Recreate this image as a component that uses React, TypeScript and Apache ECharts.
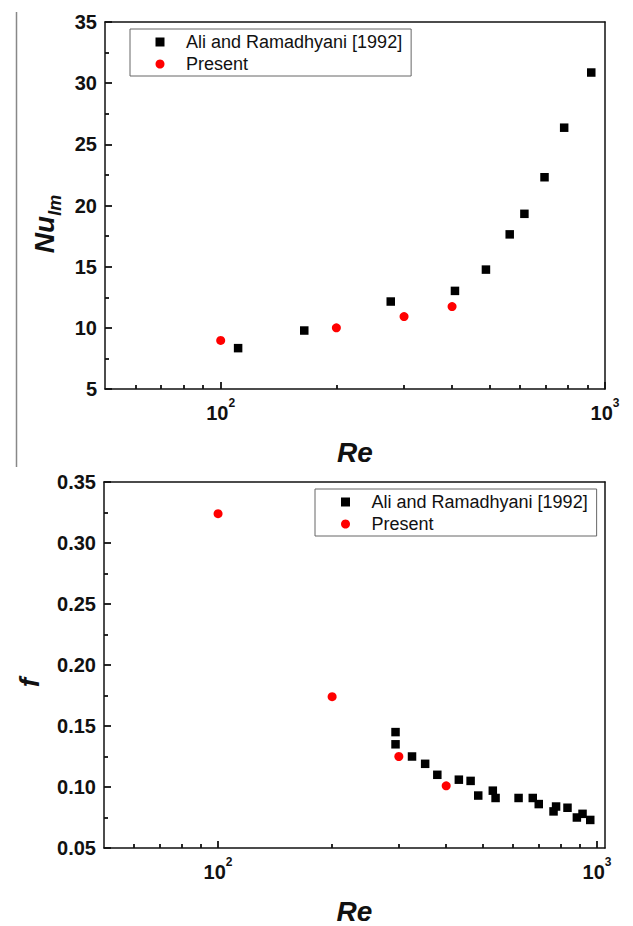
import React, { useEffect, useRef } from "react";
import * as echarts from "echarts";

// ---- data ----
const ALI = "Ali and Ramadhyani [1992]";
const PRESENT = "Present";

// top panel: Nu_lm vs Re
const aliNuRe = [111, 165, 277, 407, 490, 565, 617, 696, 783, 921];
const aliNu = [8.34, 9.78, 12.15, 13.02, 14.76, 17.64, 19.32, 22.31, 26.36, 30.87];
const presentRe = [100, 200, 300, 400];
const presentNu = [8.97, 10.0, 10.92, 11.74];

// bottom panel: f vs Re
const aliFRe = [294, 294, 325, 352, 379, 432, 464, 486, 531, 540, 621, 677, 702, 768, 780, 836, 885, 916, 960];
const aliF = [0.145, 0.135, 0.125, 0.119, 0.11, 0.106, 0.105, 0.093, 0.097, 0.091, 0.091, 0.091, 0.086, 0.08, 0.084, 0.083, 0.075, 0.078, 0.073];
const presentF = [0.324, 0.174, 0.125, 0.101];

// axes
const xMajorTicks = [100, 1000];
const xMinorTicks = [60, 70, 80, 90, 200, 300, 400, 500, 600, 700, 800, 900];
const nuMin = 5, nuMax = 35, nuStep = 5;
const fMin = 0.05, fMax = 0.35, fStep = 0.05;
const topXMax = 1000;
const bottomXMax = 1050;

const FONT = "'Liberation Sans', Arial, sans-serif";
const INK = "#111";
const LINE = "#111";
const TICK_W = 1.8;
const frameLine = { show: true, onZero: false, lineStyle: { color: LINE, width: 1.5 } };

function pairs(xs: number[], ys: number[]) {
  return xs.map((x, i) => [x, ys[i]]);
}

function xAxes(gridIndex: number, max: number) {
  return [
    {
      type: "log",
      gridIndex,
      position: "bottom",
      min: 50,
      max,
      axisLine: frameLine,
      axisTick: { show: true, inside: true, length: 7, customValues: xMajorTicks, lineStyle: { color: LINE, width: TICK_W } },
      axisLabel: {
        show: true,
        customValues: xMajorTicks,
        margin: 8,
        color: INK,
        formatter: (v: number) => `{b|10}{s|${Math.round(Math.log10(v))}}`,
        rich: {
          b: { fontSize: 20, fontWeight: "bold", fontFamily: FONT, color: INK },
          s: { fontSize: 12, fontWeight: "bold", fontFamily: FONT, color: INK, padding: [0, 0, 20, 0] },
        },
      },
      splitLine: { show: false },
      minorTick: { show: false },
      name: "Re",
      nameLocation: "middle",
      nameGap: 49,
      nameTextStyle: { fontSize: 28, fontWeight: "bold", fontStyle: "italic", fontFamily: FONT, color: INK },
    },
    {
      type: "log",
      gridIndex,
      position: "bottom",
      offset: 0,
      min: 50,
      max,
      axisLine: { show: false },
      axisTick: { show: true, inside: true, length: 4, customValues: xMinorTicks, lineStyle: { color: LINE, width: TICK_W } },
      axisLabel: { show: false },
      splitLine: { show: false },
    },
    {
      type: "value",
      gridIndex,
      position: "top",
      min: 0,
      max: 1,
      axisLine: frameLine,
      axisTick: { show: false },
      axisLabel: { show: false },
      splitLine: { show: false },
    },
  ];
}

function yAxes(gridIndex: number, min: number, max: number, step: number, digits: number, name: string, nameGap: number, shift: number) {
  return [
    {
      type: "value",
      gridIndex,
      position: "left",
      min,
      max,
      interval: step,
      axisLine: frameLine,
      axisTick: { show: true, inside: true, length: 7, lineStyle: { color: LINE, width: TICK_W } },
      minorTick: { show: true, splitNumber: 2, length: 4, lineStyle: { color: LINE, width: TICK_W } },
      axisLabel: {
        margin: 8,
        fontSize: 20,
        fontWeight: "bold",
        fontFamily: FONT,
        color: INK,
        formatter: (v: number) => v.toFixed(digits),
      },
      splitLine: { show: false },
      minorSplitLine: { show: false },
      name,
      nameLocation: "middle",
      nameRotate: 90,
      nameGap,
      nameTextStyle: {
        fontSize: 28,
        fontWeight: "bold",
        fontStyle: "italic",
        fontFamily: FONT,
        color: INK,
        padding: [0, shift, 0, 0],
        rich: {
          n: { fontSize: 28, fontWeight: "bold", fontStyle: "italic", fontFamily: FONT, color: INK },
          s: { fontSize: 18, fontWeight: "bold", fontStyle: "italic", fontFamily: FONT, color: INK, padding: [20, 0, 0, 0] },
        },
      },
    },
    {
      type: "value",
      gridIndex,
      position: "right",
      min: 0,
      max: 1,
      axisLine: frameLine,
      axisTick: { show: false },
      axisLabel: { show: false },
      splitLine: { show: false },
    },
  ];
}

function legend(left: number, top: number, padLeft: number) {
  return {
    left,
    top,
    orient: "vertical",
    data: [
      { name: ALI, icon: "rect" },
      { name: PRESENT, icon: "circle" },
    ],
    itemWidth: 9,
    itemHeight: 9,
    itemGap: 4,
    padding: [4, 9, 3, padLeft],
    borderColor: "#666",
    borderWidth: 1,
    selectedMode: false,
    textStyle: { fontSize: 18, fontFamily: FONT, color: INK, padding: [0, 0, 0, 16.5] },
  };
}

const squareStyle = { color: "#000", opacity: 1 };
const circleStyle = { color: "#ff0000", opacity: 1 };

export default function App() {
  const ref = useRef<HTMLDivElement>(null);

  useEffect(() => {
    if (!ref.current) return;
    const chart = echarts.init(ref.current, null, { renderer: "svg" });
    const option: any = {
      animation: false,
      backgroundColor: "#fff",
      grid: [
        { left: 105, top: 22, width: 500, height: 367 },
        { left: 104, top: 482, width: 501, height: 367 },
      ],
      xAxis: [...xAxes(0, topXMax), ...xAxes(1, bottomXMax)],
      yAxis: [
        ...yAxes(0, nuMin, nuMax, nuStep, 0, "{n|Nu}{s|lm}", 40, 37),
        ...yAxes(1, fMin, fMax, fStep, 2, "f", 61, 35),
      ],
      legend: [legend(130, 29, 25.5), legend(315, 489, 26)],
      graphic: [
        { type: "line", shape: { x1: 16.5, y1: 12, x2: 16.5, y2: 467 }, style: { stroke: "#888", lineWidth: 1.5 } },
      ],
      series: [
        { type: "scatter", name: ALI, xAxisIndex: 0, yAxisIndex: 0, symbol: "rect", symbolSize: 8.5, itemStyle: squareStyle, data: pairs(aliNuRe, aliNu) },
        { type: "scatter", name: PRESENT, xAxisIndex: 0, yAxisIndex: 0, symbol: "circle", symbolSize: 9, itemStyle: circleStyle, data: pairs(presentRe, presentNu) },
        { type: "scatter", name: ALI, xAxisIndex: 3, yAxisIndex: 2, symbol: "rect", symbolSize: 8.5, itemStyle: squareStyle, data: pairs(aliFRe, aliF) },
        { type: "scatter", name: PRESENT, xAxisIndex: 3, yAxisIndex: 2, symbol: "circle", symbolSize: 9, itemStyle: circleStyle, data: pairs(presentRe, presentF) },
      ],
    };
    chart.setOption(option);
    return () => chart.dispose();
  }, []);

  return <div ref={ref} style={{ position: "absolute", left: 0, top: 0, width: 633, height: 926 }} />;
}
